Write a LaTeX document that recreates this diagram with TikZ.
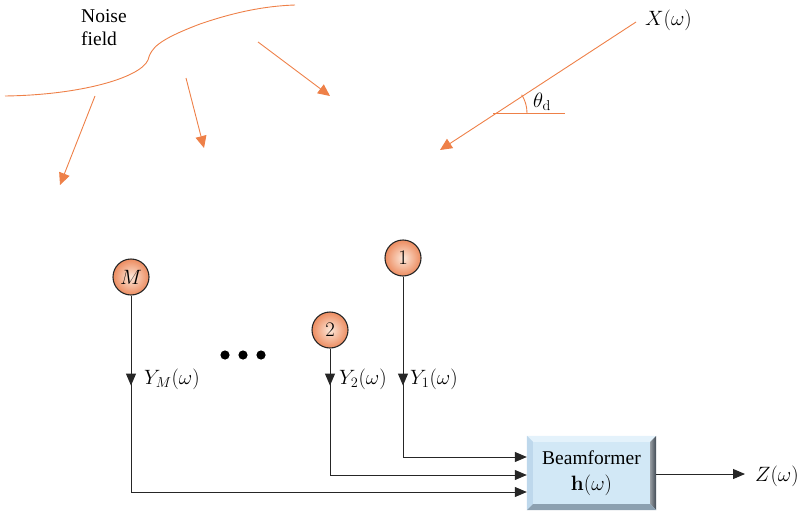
\documentclass[tikz,border=0pt]{standalone}
\usepackage[no-math]{fontspec}
\setmainfont{Liberation Serif}
\usetikzlibrary{arrows.meta,decorations.markings,calc}
\definecolor{noiseorange}{RGB}{238,128,72}
\definecolor{micedge}{RGB}{236,140,96}
\definecolor{micin}{RGB}{253,232,218}
\definecolor{bfface}{RGB}{210,232,246}
\definecolor{bftop}{RGB}{228,242,251}
\definecolor{bfleft}{RGB}{190,216,236}
\definecolor{bfright}{RGB}{62,72,82}
\definecolor{bfbottom}{RGB}{140,160,176}
\begin{document}
\begin{tikzpicture}[x=1pt,y=-1pt,
  font=\fontsize{19.5}{23}\selectfont,
  wave/.style={draw=noiseorange,line width=0.9pt,-{Triangle[length=12pt,width=11pt]}},
  mic/.style={circle,draw=black!85,line width=1.1pt,minimum size=36pt,inner sep=0pt,
    shading=radial,inner color=micin,outer color=micedge},
  sig/.style={draw=black!85,line width=1pt},
  sigtip/.style={-{Triangle[length=12pt,width=10pt]}},
  midtip/.style={postaction={decorate},decoration={markings,
    mark=at position #1 with {\arrow{Triangle[length=12pt,width=10pt]}}}},
  bfbox/.style={minimum width=129pt,minimum height=74pt,align=center,inner sep=2pt},
  lbl/.style={anchor=west,inner sep=0pt}
]
\useasboundingbox (0,0) rectangle (799,516);

% noise field front
\draw[noiseorange,line width=0.9pt]
  (5,96) .. controls (80,95) and (140,78) .. (148,60)
  .. controls (151,48) and (158,40) .. (200,24)
  .. controls (235,12) and (265,6) .. (295,5);
\node[align=left,inner sep=0pt,anchor=north west] (noise) at (81,9) {Noise\\field};

% noise propagation arrows
\coordinate (na1) at (95,96);   \coordinate (nb1) at (60,185);
\coordinate (na2) at (186,78);  \coordinate (nb2) at (204,148);
\coordinate (na3) at (258,42);  \coordinate (nb3) at (330,96);
\draw[wave] (na1) -- (nb1);
\draw[wave] (na2) -- (nb2);
\draw[wave] (na3) -- (nb3);

% desired source direction
\node[lbl] (xs) at (645,20) {$X(\omega)$};
\coordinate (src) at (636,22);
\coordinate (dst) at (440,150);
\coordinate (vtx) at (493,113);
\coordinate (hor) at (565,113);
\draw[wave] (src) -- (dst);
\draw[noiseorange,line width=0.9pt] (vtx) -- (hor);
\draw[noiseorange,line width=0.9pt] (527,113) arc[start angle=0,end angle=32.5,radius=34pt];
\node[lbl] (theta) at (533,102) {$\theta_{\mathrm{d}}$};

% microphones
\node[mic] (mM) at (131,277) {$M$};
\node[mic] (m1) at (403,258) {$1$};
\node[mic] (m2) at (330,330) {$2$};

% dots between microphones
\fill (225,355) circle (4.6);
\fill (243,355) circle (4.6);
\fill (261,355) circle (4.6);

% beamformer block with bevelled frame
\node[bfbox] (bf) at (591.5,473) {};
\fill[bfface] (bf.north west) rectangle (bf.south east);
\fill[bftop] (bf.north west) -- (bf.north east) -- ++(-6,6) -- ($(bf.north west)+(6,6)$) -- cycle;
\fill[bfleft] (bf.north west) -- (bf.south west) -- ++(6,-6) -- ($(bf.north west)+(6,6)$) -- cycle;
\shade[left color=bfright!55,right color=bfright] (bf.north east) -- (bf.south east) -- ++(-6,-6) -- ($(bf.north east)+(-6,6)$) -- cycle;
\fill[bfbottom] (bf.south west) -- (bf.south east) -- ++(-6,-6) -- ($(bf.south west)+(6,-6)$) -- cycle;
\node[align=center,inner sep=0pt] (bflabel) at (bf.center) {Beamformer\\[3pt]$\mathbf{h}(\omega)$};

\coordinate (in1) at (bf.west |- 0,457);
\coordinate (in2) at (bf.west |- 0,475);
\coordinate (inM) at (bf.west |- 0,492);
\coordinate (out) at (745,474);

\draw[sig,sigtip,midtip=109pt] (m1) |- (in1);
\draw[sig,sigtip,midtip=37pt] (m2) |- (in2);
\draw[sig,sigtip,midtip=90pt] (mM) |- (inM);
\draw[sig,sigtip] (bf.east |- out) -- (out);

\node[lbl] (yM) at (144,379) {$Y_M(\omega)$};
\node[lbl] (y2) at (339,379) {$Y_2(\omega)$};
\node[lbl] (y1) at (410,379) {$Y_1(\omega)$};
\node[lbl] (z) at (755,476) {$Z(\omega)$};
\end{tikzpicture}
\end{document}
